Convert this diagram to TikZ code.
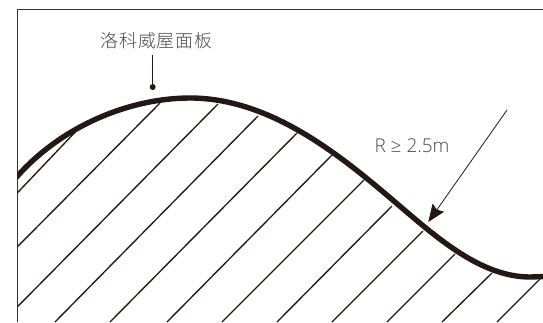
\documentclass[tikz,border=0pt]{standalone}
\usepackage{fontspec}
\newfontfamily\cjk{Noto Sans CJK SC Light}
\newfontfamily\latinf{Open Sans Light}
\usetikzlibrary{arrows.meta}
\definecolor{ink}{HTML}{231815}
\definecolor{lab}{HTML}{4A4848}
\tikzset{
  hatch/.style={draw=ink,line width=1.35pt},
  framel/.style={draw=ink!90,line width=1pt},
  roof/.style={draw=ink,line width=5.4pt},
  lbl/.style={text=lab,inner sep=0pt}
}
\begin{document}
\begin{tikzpicture}[x=1pt,y=-1pt]
\useasboundingbox (0,0) rectangle (543,322);
\draw[framel] (543,9) -- (17.5,9) -- (17.5,322);
\begin{scope}
\clip (17.5,9) rectangle (543,322);
\foreach \xa/\ya/\xb/\yb in {17.5/192.7/80/127, 17.5/246.7/160/103, 17.5/306.7/218/104, 55/322/258/116, 110/322/297/133, 167/322/332/155, 222/322/364/180, 277/322/392/206, 332/322/423/231, 387/322/455/254, 442/322/492/273, 497/322/540/279}
  \draw[hatch] (\xa,\ya) -- (\xb,\yb);
\draw[roof] (14,180) .. controls (60,126) and (130,98) .. (190,98)
  .. controls (270,98) and (340,155) .. (395,202)
  .. controls (435,236) and (480,277) .. (530,277)
  -- (546,276.5);
\end{scope}
\node[lbl,font=\cjk\fontsize{18}{18}\selectfont\addfontfeatures{LetterSpace=5}] (title) at (156.5,41) {洛科威屋面板};
\coordinate (dot) at (152.7,87);
\coordinate (leadtop) at (152.7,55);
\draw[draw=ink,line width=1.1pt] (leadtop) -- (dot);
\fill[ink] (dot) circle (3);
\node[lbl,font=\latinf\fontsize{19}{19}\selectfont] (rlabel) at (412,146) {R ≥ 2.5m};
\coordinate (astart) at (507,110);
\coordinate (atip) at (428.3,222);
\draw[draw=ink,line width=0.8pt,-{Stealth[length=17.5pt,width=14pt,inset=2.5pt]}] (astart) -- (atip);
\end{tikzpicture}
\end{document}
